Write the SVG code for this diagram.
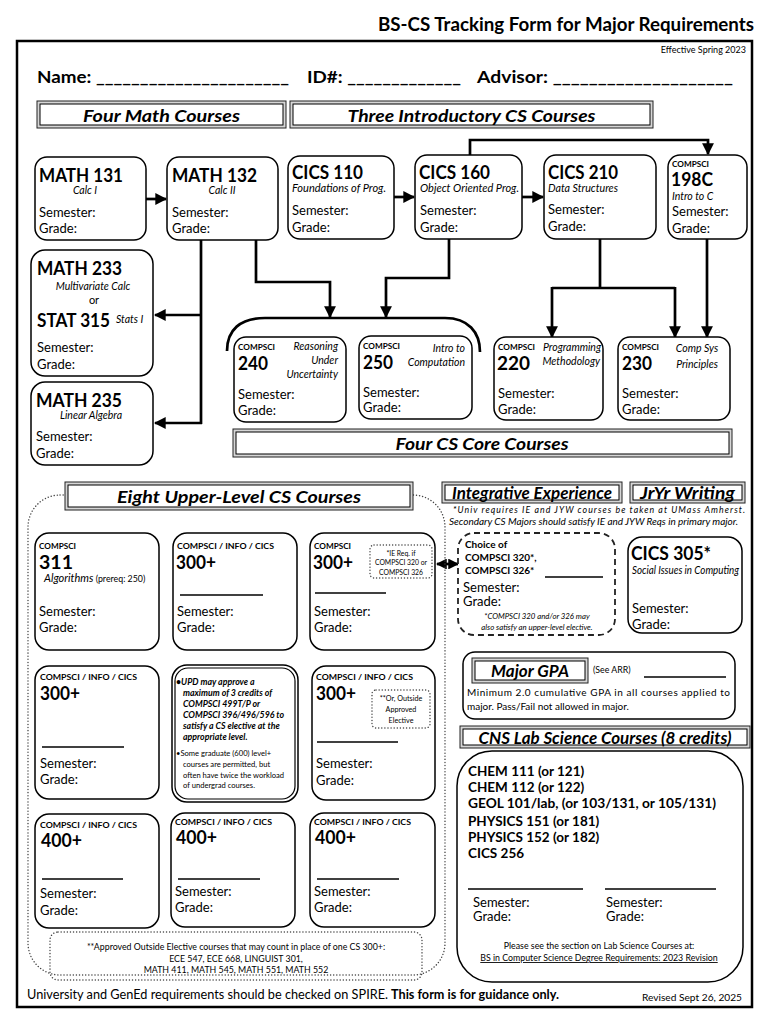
<svg xmlns="http://www.w3.org/2000/svg" width="770" height="1024" viewBox="0 0 770 1024">
<defs>
<style>
text{font-family:Lato,"Liberation Sans",sans-serif;fill:#000}
.b{font-weight:bold}
.i{font-style:italic}
.t{font-size:19px;font-weight:bold}
.sm{font-size:8.2px;font-weight:bold}
.sub{font-size:10.5px;font-style:italic}
.sg{font-size:13px}
.hd{font-size:17px;font-weight:bold;font-style:italic}
.c{text-anchor:middle}
.e{text-anchor:end}
.box{fill:#fff;stroke:#000;stroke-width:1.5}
.ho{fill:#d6d6d6;stroke:#222;stroke-width:1}
.hi{fill:#fff;stroke:#000;stroke-width:1}
.con{fill:none;stroke:#000;stroke-width:2.7}
.ul{stroke:#000;stroke-width:1.3}
.dot{fill:none;stroke:#444;stroke-width:1.4;stroke-dasharray:0.1 3;stroke-linecap:round}
.dash{fill:#fff;stroke:#222;stroke-width:1.8;stroke-dasharray:6 4}
</style>
<marker id="ah" viewBox="0 0 10 10" refX="9" refY="5" markerWidth="4.4" markerHeight="4.4" orient="auto" markerUnits="strokeWidth"><path d="M0,0 L10,5 L0,10 z" fill="#000"/></marker>
<marker id="as" viewBox="0 0 10 10" refX="9" refY="5" markerWidth="4" markerHeight="4" orient="auto-start-reverse" markerUnits="strokeWidth"><path d="M0,0 L10,5 L0,10 z" fill="#000"/></marker>
</defs>
<rect width="770" height="1024" fill="#fff"/>

<text x="754" y="31" class="b e" font-size="18" textLength="376" lengthAdjust="spacingAndGlyphs">BS-CS Tracking Form for Major Requirements</text>
<rect x="17" y="41" width="735" height="966" fill="none" stroke="#000" stroke-width="2.5"/>
<text x="746" y="53" class="e" font-size="9">Effective Spring 2023</text>
<text x="37" y="83" class="b" font-size="17" textLength="252" lengthAdjust="spacingAndGlyphs">Name: ______________________</text>
<text x="307" y="83" class="b" font-size="17" textLength="154" lengthAdjust="spacingAndGlyphs">ID#: _____________</text>
<text x="477" y="83" class="b" font-size="17" textLength="256" lengthAdjust="spacingAndGlyphs">Advisor: ____________________</text>

<g id="hdr-math"><rect x="37" y="101" width="249" height="27" class="ho"/><rect x="40" y="104" width="243" height="21" class="hi"/><text x="161.5" y="122" class="hd c" textLength="157" lengthAdjust="spacingAndGlyphs">Four Math Courses</text></g>
<g id="hdr-intro"><rect x="290" y="101" width="363" height="27" class="ho"/><rect x="293" y="104" width="357" height="21" class="hi"/><text x="471.5" y="122" class="hd c" textLength="248" lengthAdjust="spacingAndGlyphs">Three Introductory CS Courses</text></g>

<g id="connectors">
<path class="con" d="M146,199 H166" marker-end="url(#ah)"/>
<path class="con" d="M394,197 H414" marker-end="url(#ah)"/>
<path class="con" d="M522,197 H543" marker-end="url(#ah)"/>
<path class="con" stroke-width="2.2" d="M470,155 V140 H708 V154" marker-end="url(#ah)"/>
<path class="con" d="M201,240 V424"/>
<path class="con" d="M201,315 H155" marker-end="url(#ah)"/>
<path class="con" d="M202,423 H155" marker-end="url(#ah)"/>
<path class="con" d="M256,240 V282 H330 V317" marker-end="url(#ah)"/>
<path class="con" d="M449,239 V278 H386 V317" marker-end="url(#ah)"/>
<path class="con" d="M227,351 C227,330 240,318 265,318 H445 C468,318 480,332 480,352"/>
<path class="con" d="M600,239 V288"/>
<path class="con" d="M552,288 H675"/>
<path class="con" d="M552,287 V337" marker-end="url(#ah)"/>
<path class="con" d="M675,287 V337" marker-end="url(#ah)"/>
<path class="con" d="M707,239 V337" marker-end="url(#ah)"/>
<path class="con" stroke-width="2" d="M437,564 H458" marker-start="url(#as)" marker-end="url(#as)"/>
</g>

<g id="math131"><rect x="35" y="157" width="111" height="83" rx="12" class="box"/><text x="39" y="182" class="t" textLength="84" lengthAdjust="spacingAndGlyphs">MATH 131</text><text x="85" y="194" class="sub c">Calc I</text><text x="39" y="217" class="sg">Semester:</text><text x="39" y="233" class="sg">Grade:</text></g>
<g id="math132"><rect x="167" y="157" width="111" height="83" rx="12" class="box"/><text x="172" y="182" class="t" textLength="85" lengthAdjust="spacingAndGlyphs">MATH 132</text><text x="222" y="194" class="sub c">Calc II</text><text x="172" y="217" class="sg">Semester:</text><text x="172" y="233" class="sg">Grade:</text></g>
<g id="cics110"><rect x="288" y="156" width="106" height="83" rx="12" class="box"/><text x="292" y="179" class="t" textLength="71" lengthAdjust="spacingAndGlyphs">CICS 110</text><text x="292" y="192" class="sub" textLength="94" lengthAdjust="spacingAndGlyphs">Foundations of Prog.</text><text x="292" y="215" class="sg">Semester:</text><text x="292" y="232" class="sg">Grade:</text></g>
<g id="cics160"><rect x="415" y="155" width="107" height="84" rx="12" class="box"/><text x="419" y="179" class="t" textLength="71" lengthAdjust="spacingAndGlyphs">CICS 160</text><text x="420" y="192" class="sub" textLength="99" lengthAdjust="spacingAndGlyphs">Object Oriented Prog.</text><text x="420" y="215" class="sg">Semester:</text><text x="420" y="232" class="sg">Grade:</text></g>
<g id="cics210"><rect x="544" y="155" width="112" height="84" rx="12" class="box"/><text x="548" y="179" class="t" textLength="70" lengthAdjust="spacingAndGlyphs">CICS 210</text><text x="548" y="192" class="sub" textLength="70" lengthAdjust="spacingAndGlyphs">Data Structures</text><text x="548" y="214" class="sg">Semester:</text><text x="548" y="231" class="sg">Grade:</text></g>
<g id="cs198c"><rect x="668" y="155" width="79" height="84" rx="12" class="box"/><text x="672" y="167" class="sm">COMPSCI</text><text x="671" y="186" class="t" textLength="42" lengthAdjust="spacingAndGlyphs">198C</text><text x="672" y="200" class="sub" font-size="9.5">Intro to C</text><text x="672" y="216" class="sg">Semester:</text><text x="672" y="233" class="sg">Grade:</text></g>

<g id="math233"><rect x="31" y="250" width="122" height="126" rx="14" class="box"/><text x="37" y="275" class="t" textLength="85" lengthAdjust="spacingAndGlyphs">MATH 233</text><text x="93" y="290" class="sub c" font-size="11">Multivariate Calc</text><text x="94" y="304" class="c" font-size="11">or</text><text x="37" y="327" class="t" textLength="73" lengthAdjust="spacingAndGlyphs">STAT 315</text><text x="116" y="323" class="sub" font-size="10">Stats I</text><text x="37" y="352" class="sg">Semester:</text><text x="37" y="369" class="sg">Grade:</text></g>
<g id="math235"><rect x="31" y="382" width="122" height="83" rx="14" class="box"/><text x="36" y="407" class="t" textLength="86" lengthAdjust="spacingAndGlyphs">MATH 235</text><text x="91" y="419" class="sub c" font-size="11">Linear Algebra</text><text x="36" y="441" class="sg">Semester:</text><text x="36" y="458" class="sg">Grade:</text></g>

<g id="cs240"><rect x="234" y="337" width="112" height="85" rx="12" class="box"/><text x="238" y="350" class="sm">COMPSCI</text><text x="238" y="370" class="t" textLength="30" lengthAdjust="spacingAndGlyphs">240</text><text x="338" y="350" class="sub e">Reasoning</text><text x="338" y="364" class="sub e">Under</text><text x="338" y="378" class="sub e">Uncertainty</text><text x="238" y="399" class="sg">Semester:</text><text x="238" y="415" class="sg">Grade:</text></g>
<g id="cs250"><rect x="359" y="336" width="113" height="83" rx="12" class="box"/><text x="363" y="349" class="sm">COMPSCI</text><text x="363" y="369" class="t" textLength="30" lengthAdjust="spacingAndGlyphs">250</text><text x="465" y="352" class="sub e">Intro to</text><text x="465" y="366" class="sub e">Computation</text><text x="363" y="397" class="sg">Semester:</text><text x="363" y="412" class="sg">Grade:</text></g>
<g id="cs220"><rect x="494" y="337" width="109" height="83" rx="12" class="box"/><text x="498" y="350" class="sm">COMPSCI</text><text x="601" y="351" class="sub e" font-size="9.8">Programming</text><text x="497" y="370" class="t" textLength="33" lengthAdjust="spacingAndGlyphs">220</text><text x="600" y="365" class="sub e" font-size="9.8">Methodology</text><text x="498" y="398" class="sg">Semester:</text><text x="498" y="414" class="sg">Grade:</text></g>
<g id="cs230"><rect x="618" y="337" width="112" height="83" rx="12" class="box"/><text x="622" y="350" class="sm">COMPSCI</text><text x="622" y="370" class="t" textLength="30" lengthAdjust="spacingAndGlyphs">230</text><text x="697" y="352" class="sub c">Comp Sys</text><text x="697" y="368" class="sub c">Principles</text><text x="622" y="398" class="sg">Semester:</text><text x="622" y="414" class="sg">Grade:</text></g>

<g id="hdr-core"><rect x="233" y="429" width="499" height="28" class="ho"/><rect x="236" y="432" width="493" height="22" class="hi"/><text x="482" y="450" class="hd c" textLength="173" lengthAdjust="spacingAndGlyphs">Four CS Core Courses</text></g>

<g id="upper-group"><rect x="28" y="495" width="417" height="480" rx="32" class="dot"/></g>
<g id="hdr-upper"><rect x="65" y="482" width="348" height="28" class="ho"/><rect x="68" y="485" width="342" height="22" class="hi"/><text x="239" y="503" class="hd c" textLength="244" lengthAdjust="spacingAndGlyphs">Eight Upper-Level CS Courses</text></g>

<g id="cs311"><rect x="35" y="533" width="124" height="117" rx="14" class="box"/><text x="39" y="549" class="sm">COMPSCI</text><text x="39" y="569" class="t" textLength="34" lengthAdjust="spacingAndGlyphs">311</text><text x="44" y="582" font-size="11"><tspan class="i">Algorithms</tspan><tspan font-size="8.8"> (prereq: 250)</tspan></text><text x="39" y="616" class="sg">Semester:</text><text x="39" y="632" class="sg">Grade:</text></g>
<g id="up300a"><rect x="173" y="533" width="124" height="117" rx="14" class="box"/><text x="177" y="549" class="sm" textLength="97" lengthAdjust="spacingAndGlyphs">COMPSCI / INFO / CICS</text><text x="176" y="569" class="t" textLength="40" lengthAdjust="spacingAndGlyphs">300+</text><line x1="180" y1="595" x2="263" y2="595" class="ul"/><text x="177" y="616" class="sg">Semester:</text><text x="177" y="632" class="sg">Grade:</text></g>
<g id="up300b"><rect x="310" y="533" width="125" height="117" rx="14" class="box"/><text x="314" y="549" class="sm">COMPSCI</text><text x="313" y="569" class="t" textLength="40" lengthAdjust="spacingAndGlyphs">300+</text><rect x="370" y="545" width="62" height="33" rx="4" class="dot" stroke-width="1.1"/><text x="401" y="556" class="c" font-size="6.8" fill="#333">*IE Req. if</text><text x="401" y="565" class="c" font-size="6.8" fill="#333">COMPSCI 320 or</text><text x="401" y="575" class="c" font-size="6.8" fill="#333">COMPSCI 326</text><line x1="315" y1="593" x2="386" y2="593" class="ul"/><text x="314" y="616" class="sg">Semester:</text><text x="314" y="632" class="sg">Grade:</text></g>

<g id="up300c"><rect x="35" y="666" width="124" height="133" rx="14" class="box"/><text x="40" y="680" class="sm" textLength="97" lengthAdjust="spacingAndGlyphs">COMPSCI / INFO / CICS</text><text x="40" y="700" class="t" textLength="40" lengthAdjust="spacingAndGlyphs">300+</text><line x1="42" y1="747" x2="124" y2="747" class="ul"/><text x="40" y="768" class="sg">Semester:</text><text x="40" y="784" class="sg">Grade:</text></g>
<g id="note-upd"><rect x="172" y="665" width="126" height="137" rx="15" class="box"/><rect x="175" y="668" width="120" height="131" rx="13" fill="none" stroke="#000" stroke-width="1.2"/>
<text x="176" y="685" class="b i" font-size="8.8">•UPD may approve a</text>
<text x="183" y="696" class="b i" font-size="8.8">maximum of 3 credits of</text>
<text x="183" y="707" class="b i" font-size="8.8">COMPSCI 499T/P or</text>
<text x="183" y="718" class="b i" font-size="8.8">COMPSCI 396/496/596 to</text>
<text x="183" y="729" class="b i" font-size="8.8">satisfy a CS elective at the</text>
<text x="183" y="740" class="b i" font-size="8.8">appropriate level.</text>
<text x="176" y="756" font-size="7.6" fill="#222">•Some graduate (600) level+</text>
<text x="183" y="767" font-size="7.6" fill="#222">courses are permitted, but</text>
<text x="183" y="778" font-size="7.6" fill="#222">often have twice the workload</text>
<text x="183" y="788" font-size="7.6" fill="#222">of undergrad courses.</text></g>
<g id="up300d"><rect x="312" y="666" width="123" height="134" rx="14" class="box"/><text x="316" y="680" class="sm" textLength="97" lengthAdjust="spacingAndGlyphs">COMPSCI / INFO / CICS</text><text x="316" y="700" class="t" textLength="40" lengthAdjust="spacingAndGlyphs">300+</text><rect x="372" y="690" width="58" height="38" rx="4" class="dot" stroke-width="1.1"/><text x="401" y="701" class="c" font-size="7.2" fill="#333">**Or, Outside</text><text x="401" y="712" class="c" font-size="7.2" fill="#333">Approved</text><text x="401" y="723" class="c" font-size="7.2" fill="#333">Elective</text><line x1="317" y1="742" x2="398" y2="742" class="ul"/><text x="316" y="768" class="sg">Semester:</text><text x="316" y="785" class="sg">Grade:</text></g>

<g id="up400a"><rect x="35" y="814" width="124" height="114" rx="14" class="box"/><text x="40" y="828" class="sm" textLength="97" lengthAdjust="spacingAndGlyphs">COMPSCI / INFO / CICS</text><text x="41" y="847" class="t" textLength="41" lengthAdjust="spacingAndGlyphs">400+</text><line x1="42" y1="879" x2="123" y2="879" class="ul"/><text x="40" y="898" class="sg">Semester:</text><text x="40" y="915" class="sg">Grade:</text></g>
<g id="up400b"><rect x="171" y="813" width="124" height="114" rx="14" class="box"/><text x="175" y="825" class="sm" textLength="97" lengthAdjust="spacingAndGlyphs">COMPSCI / INFO / CICS</text><text x="176" y="844" class="t" textLength="41" lengthAdjust="spacingAndGlyphs">400+</text><line x1="178" y1="879" x2="260" y2="879" class="ul"/><text x="175" y="896" class="sg">Semester:</text><text x="175" y="912" class="sg">Grade:</text></g>
<g id="up400c"><rect x="310" y="813" width="125" height="114" rx="14" class="box"/><text x="314" y="825" class="sm" textLength="97" lengthAdjust="spacingAndGlyphs">COMPSCI / INFO / CICS</text><text x="315" y="844" class="t" textLength="41" lengthAdjust="spacingAndGlyphs">400+</text><line x1="317" y1="879" x2="399" y2="879" class="ul"/><text x="314" y="896" class="sg">Semester:</text><text x="314" y="912" class="sg">Grade:</text></g>

<g id="outside-electives"><rect x="50" y="932" width="372" height="48" rx="8" fill="#fff" class="dot" stroke-width="1.2"/><text x="236" y="950" class="c" font-size="8.8" fill="#222">**Approved Outside Elective courses that may count in place of one CS 300+:</text><text x="236" y="962" class="c" font-size="8.8" fill="#222">ECE 547, ECE 668, LINGUIST 301,</text><text x="236" y="973" class="c" font-size="8.8" fill="#222">MATH 411, MATH 545, MATH 551, MATH 552</text></g>

<g id="hdr-ie"><rect x="442" y="482" width="180" height="21" class="ho"/><rect x="445" y="485" width="174" height="15" class="hi"/><text x="532" y="499" class="hd c" font-size="16" textLength="160" lengthAdjust="spacingAndGlyphs">Integrative Experience</text></g>
<g id="hdr-jyw"><rect x="630" y="482" width="115" height="21" class="ho"/><rect x="633" y="485" width="109" height="15" class="hi"/><text x="687.5" y="499" class="hd c" font-size="16" textLength="95" lengthAdjust="spacingAndGlyphs">JrYr Writing</text></g>
<text x="453" y="513" class="i" font-size="8.8" fill="#222" textLength="292" lengthAdjust="spacing">*Univ requires IE and JYW courses be taken at UMass Amherst.</text>
<text x="449" y="525" class="i" font-size="8.8" fill="#222" textLength="289" lengthAdjust="spacingAndGlyphs">Secondary CS Majors should satisfy IE and JYW Reqs in primary major.</text>

<g id="ie-choice"><rect x="458" y="533" width="157" height="102" rx="16" class="dash"/><text x="465" y="548" class="b" font-size="10">Choice of</text><text x="465" y="561" class="b" font-size="10">COMPSCI 320*,</text><text x="465" y="574" class="b" font-size="10">COMPSCI 326*</text><line x1="545" y1="577" x2="603" y2="577" class="ul"/><text x="463" y="592" class="sg">Semester:</text><text x="463" y="606" class="sg">Grade:</text><text x="537" y="619" class="i c" font-size="7.8" fill="#222">*COMPSCI 320 and/or 326 may</text><text x="537" y="630" class="i c" font-size="7.8" fill="#222">also satisfy an upper-level elective.</text></g>
<g id="cics305"><rect x="628" y="537" width="114" height="96" rx="14" class="box"/><text x="631" y="560" class="t" textLength="80" lengthAdjust="spacingAndGlyphs">CICS 305*</text><text x="632" y="574" class="sub" font-size="8.2" textLength="107" lengthAdjust="spacingAndGlyphs">Social Issues in Computing</text><text x="632" y="613" class="sg">Semester:</text><text x="632" y="629" class="sg">Grade:</text></g>

<g id="gpa"><rect x="463" y="652" width="272" height="67" rx="12" class="box"/><rect x="472" y="658" width="116" height="25" class="ho" fill="#bbb"/><rect x="475" y="661" width="110" height="19" class="hi"/><text x="530" y="677" class="hd c" textLength="78" lengthAdjust="spacingAndGlyphs">Major GPA</text><text x="593" y="673" font-size="8.8" fill="#333">(See ARR)</text><line x1="644" y1="677" x2="726" y2="677" class="ul"/><text x="467" y="696" font-size="10" fill="#222" textLength="263" lengthAdjust="spacing">Minimum 2.0 cumulative GPA in all courses applied to</text><text x="467" y="710" font-size="10" fill="#222">major.  Pass/Fail not allowed in major.</text></g>

<g id="hdr-cns"><rect x="460" y="726" width="290" height="22" class="ho"/><rect x="463" y="729" width="284" height="16" class="hi"/><text x="605" y="744" class="hd c" textLength="253" lengthAdjust="spacingAndGlyphs">CNS Lab Science Courses (8 credits)</text></g>
<g id="lab"><rect x="457" y="751" width="286" height="231" rx="35" class="box"/>
<text x="468" y="776" class="b" font-size="13.5">CHEM 111 (or 121)</text>
<text x="468" y="792" class="b" font-size="13.5">CHEM 112 (or 122)</text>
<text x="468" y="808" class="b" font-size="13.5" textLength="248" lengthAdjust="spacingAndGlyphs">GEOL 101/lab, (or 103/131, or 105/131)</text>
<text x="468" y="826" class="b" font-size="13.5">PHYSICS 151 (or 181)</text>
<text x="468" y="842" class="b" font-size="13.5">PHYSICS 152 (or 182)</text>
<text x="468" y="858" class="b" font-size="13.5">CICS 256</text>
<line x1="468" y1="889" x2="583" y2="889" class="ul"/><line x1="605" y1="889" x2="716" y2="889" class="ul"/>
<text x="473" y="907" class="sg" font-size="12.5">Semester:</text><text x="473" y="921" class="sg" font-size="12.5">Grade:</text>
<text x="606" y="907" class="sg" font-size="12.5">Semester:</text><text x="606" y="921" class="sg" font-size="12.5">Grade:</text>
<text x="599" y="949" class="c" font-size="8.8" fill="#333">Please see the section on Lab Science Courses at:</text>
<text x="599" y="961" class="c" font-size="8.8" fill="#3aa6a8" text-decoration="underline">BS in Computer Science Degree Requirements: 2023 Revision</text></g>

<text x="27" y="999" font-size="12.5" textLength="361" lengthAdjust="spacingAndGlyphs">University and GenEd requirements should be checked on SPIRE.</text>
<text x="391" y="999" class="b" font-size="12.5" textLength="168" lengthAdjust="spacingAndGlyphs">This form is for guidance only.</text>
<text x="642" y="1001" font-size="10" fill="#222" textLength="100" lengthAdjust="spacingAndGlyphs">Revised Sept 26, 2025</text>
</svg>
